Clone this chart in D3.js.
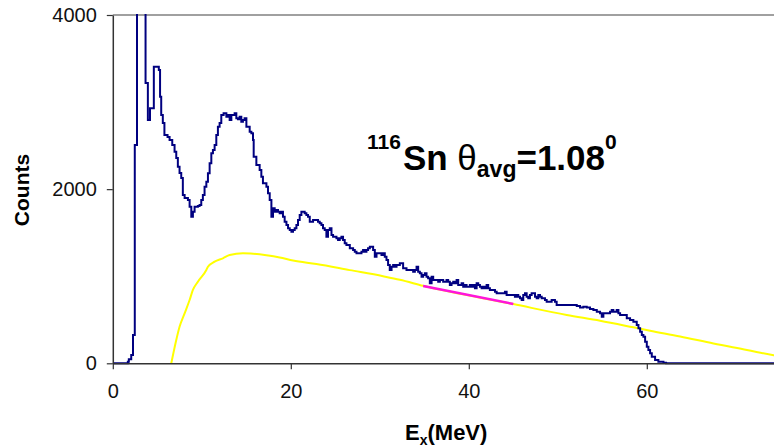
<!DOCTYPE html>
<html>
<head>
<meta charset="utf-8">
<script src="https://cdn.jsdelivr.net/npm/d3@7"></script>
<style>
  body { margin: 0; background: #fff; }
  svg { display: block; font-family: 'Liberation Sans', Arial, sans-serif; }
</style>
</head>
<body>
<svg id="chart" width="774" height="448"></svg>
<script>
// measured spectrum, left edge of each step (MeV) and counts in it
const spectrumEx = [
  0, 1.69, 1.80, 2.07, 2.27, 2.47, 2.72, 3.20, 3.68, 3.94, 4.18, 4.61, 5.17, 5.31, 5.44, 5.62, 5.80,
  6.15, 6.38, 6.68, 6.94, 7.13, 7.31, 7.50, 7.69, 7.87, 8.07, 8.44, 8.63, 8.82, 9.00, 9.19, 9.56,
  9.75, 9.94, 10.12, 10.31, 10.51, 10.69, 10.88, 11.07, 11.25, 11.44, 11.63, 11.81, 12.00, 12.19,
  12.45, 12.76, 12.94, 13.13, 13.32, 13.69, 13.88, 14.06, 14.25, 14.44, 14.62, 14.81, 15.01, 15.38,
  15.57, 15.75, 15.83, 16.13, 16.50, 16.69, 16.87, 17.26, 17.44, 17.63, 17.82, 18.00, 18.19, 18.38,
  18.56, 18.75, 18.94, 19.12, 19.31, 19.51, 19.69, 19.88, 20.07, 20.25, 20.44, 20.63, 20.81, 21.00,
  21.19, 21.56, 21.75, 21.93, 22.13, 22.50, 23.06, 23.25, 23.44, 23.62, 23.81, 24.00, 24.18, 24.38,
  24.57, 24.75, 25.13, 25.31, 25.50, 25.69, 25.87, 26.06, 26.25, 26.63, 27.00, 27.19, 27.38, 27.94,
  28.12, 28.31, 28.50, 28.68, 28.88, 29.25, 29.44, 29.63, 30.19, 30.37, 30.56, 30.75, 30.93, 31.12,
  31.32, 31.50, 31.69, 31.88, 32.25, 32.62, 33.00, 33.75, 33.94, 34.13, 34.31, 34.50, 34.69, 34.87,
  35.06, 35.25, 35.43, 35.62, 35.82, 36.00, 36.56, 36.75, 37.12, 37.50, 37.68, 37.87, 38.06, 38.25,
  38.44, 38.63, 38.81, 39.19, 39.37, 39.56, 39.75, 40.12, 40.31, 40.49, 40.69, 40.88, 41.06, 41.25,
  41.44, 41.62, 41.81, 42.00, 42.18, 42.37, 42.94, 43.13, 44.06, 44.25, 45.18, 45.38, 45.56, 45.75,
  45.94, 46.12, 46.31, 46.50, 46.68, 46.87, 47.06, 47.44, 47.63, 47.81, 48.00, 48.19, 48.56, 48.75,
  49.31, 49.68, 49.87, 52.13, 52.50, 52.87, 53.25, 53.62, 54.00, 54.38, 54.75, 54.94, 55.12, 55.87,
  56.06, 56.24, 56.62, 56.81, 57.00, 57.37, 57.75, 58.12, 58.49, 58.87, 59.06, 59.25, 59.44, 59.62,
  59.81, 60.00, 60.18, 60.37, 60.56, 60.93, 61.30, 61.87, 62.17, 80
];
const spectrumCounts = [
  0, 18, 46, 95, 325, 2507, 5800, 4900, 3219, 2794, 2928, 3406, 3368, 3062, 2851, 2760, 2622,
  2599, 2565, 2507, 2430, 2358, 2258, 2185, 2128, 1933, 1898, 1875, 1798, 1684, 1741, 1798, 1806,
  1818, 1875, 1933, 2028, 2085, 2182, 2297, 2412, 2450, 2507, 2622, 2717, 2760, 2851,
  2871, 2832, 2851, 2794, 2851, 2871, 2814, 2802, 2832, 2775, 2794, 2814, 2717, 2660,
  2641, 2565, 2373, 2277, 2220, 2143, 2067, 2028, 1952, 1875, 1684, 1780, 1741, 1760,
  1741, 1723, 1741, 1684, 1626, 1588, 1550, 1531, 1511, 1531, 1550, 1588, 1646, 1703,
  1741, 1723, 1703, 1684, 1626, 1646, 1626, 1608, 1588, 1550, 1531, 1454, 1531, 1550,
  1473, 1454, 1436, 1416, 1436, 1454, 1416, 1378, 1359, 1321, 1301, 1282, 1263, 1282,
  1301, 1282, 1301, 1321, 1339, 1301, 1224, 1263, 1244, 1263, 1224, 1186, 1129, 1071,
  1109, 1129, 1109, 1129, 1148, 1091, 1071, 1052, 1071, 1109, 1052, 1034, 994, 1014,
  1034, 994, 976, 919, 994, 957, 937, 957, 937, 957, 937, 899, 919, 937,
  919, 957, 899, 919, 880, 899, 880, 899, 880, 899, 861, 919, 899, 880,
  861, 880, 861, 899, 861, 842, 822, 804, 822, 784, 765, 784, 765, 746,
  727, 784, 804, 765, 746, 784, 804, 765, 746, 784, 765, 746, 727, 707,
  727, 707, 670, 658, 640, 650, 640, 625, 612, 593, 574, 535, 574, 593,
  612, 593, 612, 574, 555, 555, 517, 497, 478, 440, 402, 363, 325, 305,
  248, 191, 153, 115, 76, 38, 18, 7, 0, 0
];

// yellow background estimate
const bgEx = [
  6.57, 7.13, 7.50, 8.07, 8.63, 9.00, 9.56, 10.51, 10.69, 11.44, 12.37, 13.13, 14.62, 15.5,
  17.26, 18.75, 20.25, 22.88, 26.63, 30.37, 32.25, 34.87, 45.0, 51.0, 54.75, 58.49, 60.37,
  63.75, 67.49, 71.25, 74.25, 75
];
const bgCounts = [
  0, 268, 420, 574, 727, 842, 937, 1071, 1109, 1167, 1206, 1244, 1263, 1260,
  1240, 1215, 1180, 1140, 1070, 1000, 960, 890, 680, 555, 489, 413, 374,
  308, 227, 153, 92, 80
];

// magenta fit segment
const fitEx = [34.87, 45.0];
const fitCounts = [888, 681];

const xTicks = [0, 20, 40, 60];
const yTicks = [0, 2000, 4000];

const svg = d3.select('#chart');

const x = d3.scaleLinear().domain([0, 80]).range([112.8, 824.8]);
const y = d3.scaleLinear().domain([0, 4000]).range([363.3, 15]);

svg.append('defs').append('clipPath').attr('id', 'plot')
  .append('rect')
  .attr('x', x(0))
  .attr('y', y(4000) - 1)
  .attr('width', 774 - x(0))
  .attr('height', y(0) - y(4000) + 3);

// top border of plot area
svg.append('line')
  .attr('x1', x(0)).attr('x2', 774)
  .attr('y1', y(4000)).attr('y2', y(4000))
  .attr('stroke', '#a0a0a0')
  .attr('stroke-width', 2);

const g = svg.append('g').attr('clip-path', 'url(#plot)');

const pts = (xs, ys) => xs.map((e, i) => [e, ys[i]]);

g.append('path')
  .datum(pts(bgEx, bgCounts))
  .attr('fill', 'none')
  .attr('stroke', '#ffff00')
  .attr('stroke-width', 2)
  .attr('d', d3.line().x((d) => x(d[0])).y((d) => y(d[1])).curve(d3.curveMonotoneX));

g.append('path')
  .datum(pts(fitEx, fitCounts))
  .attr('fill', 'none')
  .attr('stroke', '#ff14dc')
  .attr('stroke-width', 2.5)
  .attr('d', d3.line().x((d) => x(d[0])).y((d) => y(d[1])));

g.append('path')
  .datum(pts(spectrumEx, spectrumCounts))
  .attr('fill', 'none')
  .attr('stroke', '#000080')
  .attr('stroke-width', 2)
  .attr('d', d3.line().x((d) => x(d[0])).y((d) => y(d[1])).curve(d3.curveStepAfter));

// axes
const xAxis = svg.append('g')
  .attr('transform', `translate(0,${y(0)})`)
  .call(d3.axisBottom(x).tickValues(xTicks).tickSize(6).tickSizeOuter(0).tickPadding(15));
const yAxis = svg.append('g')
  .attr('transform', `translate(${x(0)},0)`)
  .call(d3.axisLeft(y).tickValues(yTicks).tickFormat(d3.format('d'))
    .tickSize(6).tickSizeOuter(0).tickPadding(10));

[xAxis, yAxis].forEach((a) => {
  a.select('.domain').attr('stroke', '#333').attr('stroke-width', 1.5);
  a.selectAll('.tick line').attr('stroke', '#333').attr('stroke-width', 1.2);
  a.selectAll('.tick text')
    .attr('font-family', "'Liberation Sans', Arial, sans-serif")
    .attr('font-size', 20)
    .attr('fill', '#111');
});

// axis titles
svg.append('text')
  .attr('transform', 'translate(29,190) rotate(-90)')
  .attr('text-anchor', 'middle')
  .attr('font-weight', 'bold')
  .attr('font-size', 21)
  .text('Counts');

const xt = svg.append('text')
  .attr('x', 405)
  .attr('y', 440)
  .attr('font-weight', 'bold')
  .attr('font-size', 22);
xt.append('tspan').text('E');
xt.append('tspan').attr('y', 445).attr('font-size', 14).text('x');
xt.append('tspan').attr('y', 440).text('(MeV)');

// annotation
const note = svg.append('text')
  .attr('x', 367)
  .attr('y', 170)
  .attr('font-weight', 'bold')
  .attr('font-size', 35);
note.append('tspan').attr('y', 149).attr('font-size', 21).text('116');
note.append('tspan').attr('y', 170).attr('dx', 2).text('Sn ');
note.append('tspan').attr('font-weight', 'normal').text('θ');
note.append('tspan').attr('y', 177).attr('font-size', 23).text('avg');
note.append('tspan').attr('y', 170).text('=1.08');
note.append('tspan').attr('y', 149).attr('font-size', 21).text('0');
</script>
</body>
</html>
